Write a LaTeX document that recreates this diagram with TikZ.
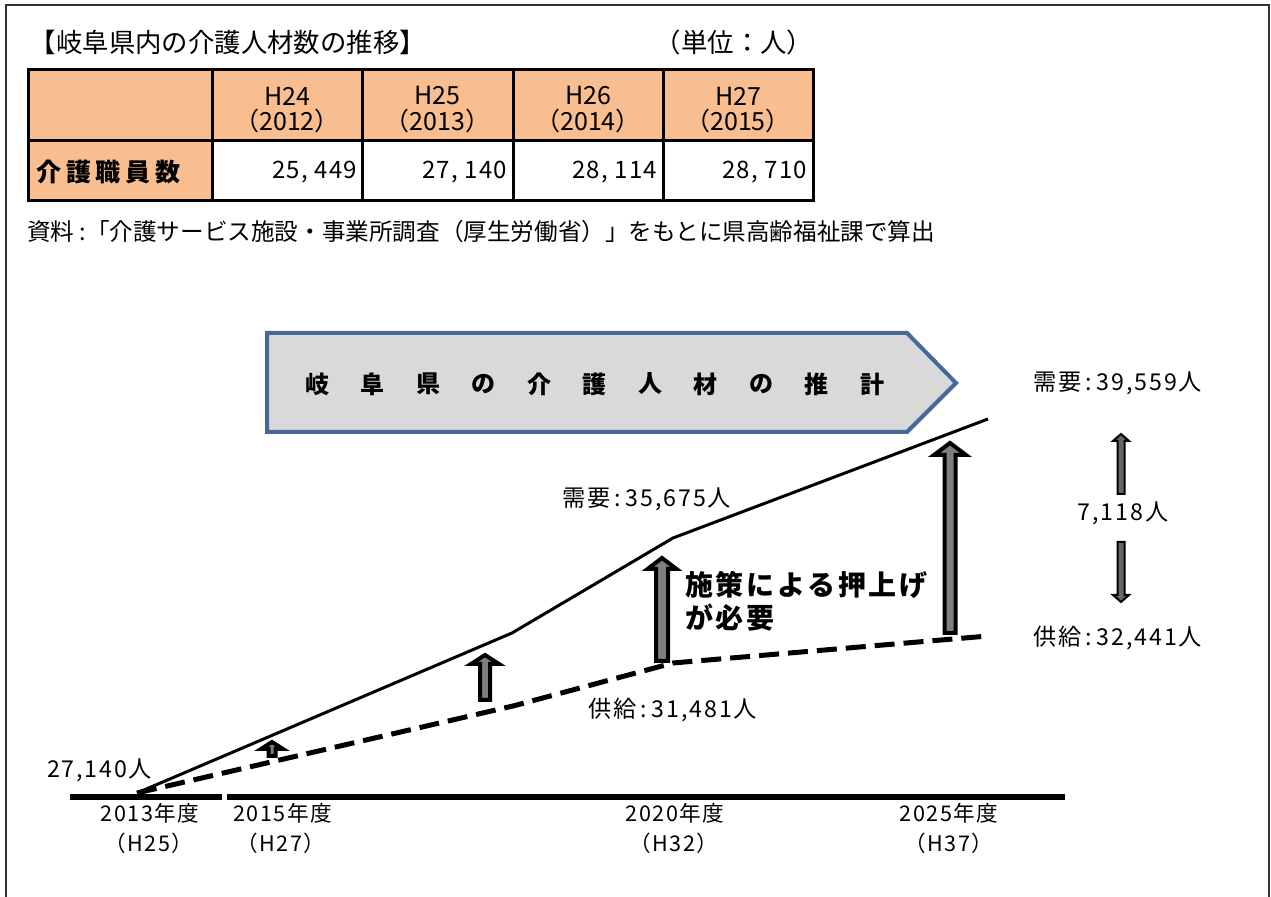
\documentclass[tikz,border=0pt]{standalone}
\usepackage{fontspec}
\setmainfont{Noto Sans CJK JP}
\definecolor{peach}{HTML}{F8BE8F}
\definecolor{bannerfill}{HTML}{D9D9D9}
\definecolor{bannerline}{HTML}{46699A}
\definecolor{arrowgray}{HTML}{7F7F7F}
\definecolor{framegray}{HTML}{333333}
\newcommand\cln{\hspace{0.2em}:\hspace{0.2em}}
\tikzset{
  every node/.style={inner sep=0pt, outer sep=0pt},
  titlefont/.style={font=\fontsize{13.2}{15}\selectfont},
  notefont/.style={font=\fontsize{11.8}{13}\selectfont},
  chartlbl/.style={font=\fontsize{11.6}{13}\selectfont\addfontfeature{LetterSpace=8}},
  yearlbl/.style={font=\fontsize{10.8}{12}\selectfont\addfontfeature{LetterSpace=7}},
  cell/.style={font=\fontsize{12.5}{14}\selectfont},
  num/.style={font=\fontsize{12}{14}\selectfont\addfontfeature{LetterSpace=5}, anchor=east},
  rowlbl/.style={font=\fontsize{12.5}{14}\selectfont\bfseries\addfontfeature{LetterSpace=20}, anchor=west},
  bannertxt/.style={font=\fontsize{12}{14}\selectfont\bfseries},
  policy/.style={font=\fontsize{14}{16}\selectfont\bfseries\addfontfeature{LetterSpace=10}, anchor=west},
  blockarrow/.style={draw=black, fill=arrowgray, line width=2pt, line join=miter},
  thinarrow/.style={draw=black, fill=arrowgray!80!black, line width=1pt, line join=miter},
  demand/.style={line width=1.5pt},
  supply/.style={line width=2.5pt, dash pattern=on 10pt off 4.5pt},
  axisline/.style={line width=3pt},
  tableline/.style={line width=1.5pt},
}
% cx, tip, base, bottom, headhalf, shafthalf, style
\newcommand\blockup[7]{%
  \draw[#7] ({#1-#6},#4) -- ({#1-#6},#3) -- ({#1-#5},#3) -- (#1,#2) -- ({#1+#5},#3) -- ({#1+#6},#3) -- ({#1+#6},#4) -- cycle;}
\begin{document}
\begin{tikzpicture}[x=0.5pt, y=-0.5pt]
\useasboundingbox (0,0) rectangle (1271,897);
% frame
\draw[framegray, line width=1pt] (6,897) -- (6,5) -- (1269,5) -- (1269,897);

% title
\node[titlefont, anchor=west] (title) at (30,42) {【岐阜県内の介護人材数の推移】};
\node[titlefont] (unit) at (734,42) {（単位：人）};

% table
\fill[peach] (28,70) rectangle (813,141);
\fill[peach] (28,141) rectangle (212,201);
\draw[tableline] (28,70) rectangle (813,201);
\draw[tableline] (28,141) -- (813,141);
\foreach \xx in {212,362,513,663} \draw[tableline] (\xx,70) -- (\xx,201);

\node[cell] (h1a) at (287,96) {H24};
\node[cell] (h1b) at (287,121) {（2012）};
\node[cell] (h2a) at (437.5,96) {H25};
\node[cell] (h2b) at (437.5,121) {（2013）};
\node[cell] (h3a) at (588,96) {H26};
\node[cell] (h3b) at (588,121) {（2014）};
\node[cell] (h4a) at (738,96) {H27};
\node[cell] (h4b) at (738,121) {（2015）};
\node[rowlbl] (rl) at (36,172) {介護職員数};
\node[num] (v1) at (357,172) {25, 449};
\node[num] (v2) at (507,172) {27, 140};
\node[num] (v3) at (657,172) {28, 114};
\node[num] (v4) at (807,172) {28, 710};

% source note
\node[notefont, anchor=west] (note) at (27,232) {資料 :「介護サービス施設・事業所調査（厚生労働省）」をもとに県高齢福祉課で算出};

% banner
\draw[bannerline, fill=bannerfill, line width=2pt, line join=miter]
  (267,333) -- (907,333) -- (956,383) -- (907,432) -- (267,432) -- cycle;
\foreach \c [count=\i] in {岐,阜,県,の,介,護,人,材,の,推,計}
  \node[bannertxt] (bn\i) at ({317+55.5*(\i-1)},384) {\c};

% axis
\coordinate (ax1a) at (70,797);
\coordinate (ax1b) at (222,797);
\coordinate (ax2a) at (227,797);
\coordinate (ax2b) at (1065,797);
\draw[axisline] (ax1a) -- (ax1b);
\draw[axisline] (ax2a) -- (ax2b);

% chart points
\coordinate (o) at (137,793);
\coordinate (d1) at (512,633);
\coordinate (d2) at (673,538);
\coordinate (d3) at (988,419);
\coordinate (s1) at (513,706);
\coordinate (s2) at (673,663);
\coordinate (s3) at (988,636);
\draw[demand] (o) -- (d1) -- (d2) -- (d3);
\draw[supply] (o) -- (s1) -- (s2) -- (s3);

% block arrows
\blockup{272}{742}{749}{756}{11}{3.5}{blockarrow}
\blockup{485}{655}{664}{700}{14}{5}{blockarrow}
\blockup{662}{558}{569}{661}{14.5}{6}{blockarrow}
\blockup{950}{443}{455}{633}{16}{5.5}{blockarrow}
% gap arrows
\blockup{1121}{434}{441}{494}{8}{3.5}{thinarrow}
\blockup{1121}{602}{595}{542}{8}{3.5}{thinarrow}

% labels
\node[chartlbl, anchor=west] (start) at (47,770) {27,140人};
\node[chartlbl, anchor=west] (dem1) at (562,499) {需要\cln35,675人};
\node[chartlbl, anchor=west] (sup1) at (588,710) {供給\cln31,481人};
\node[chartlbl, anchor=west] (dem2) at (1033,383) {需要\cln39,559人};
\node[chartlbl, anchor=west] (sup2) at (1033,638) {供給\cln32,441人};
\node[chartlbl] (gap) at (1123,513) {7,118人};
\node[policy] (pol1) at (685,585) {施策による押上げ};
\node[policy] (pol2) at (685,618) {が必要};

% year labels
\node[yearlbl] (y1) at (150,813) {2013年度};
\node[yearlbl] (y1h) at (149,843) {（H25）};
\node[yearlbl] (y2) at (282.5,813) {2015年度};
\node[yearlbl] (y2h) at (281,843) {（H27）};
\node[yearlbl] (y3) at (675,813) {2020年度};
\node[yearlbl] (y3h) at (674,843) {（H32）};
\node[yearlbl] (y4) at (949,813) {2025年度};
\node[yearlbl] (y4h) at (949,843) {（H37）};
\end{tikzpicture}
\end{document}
